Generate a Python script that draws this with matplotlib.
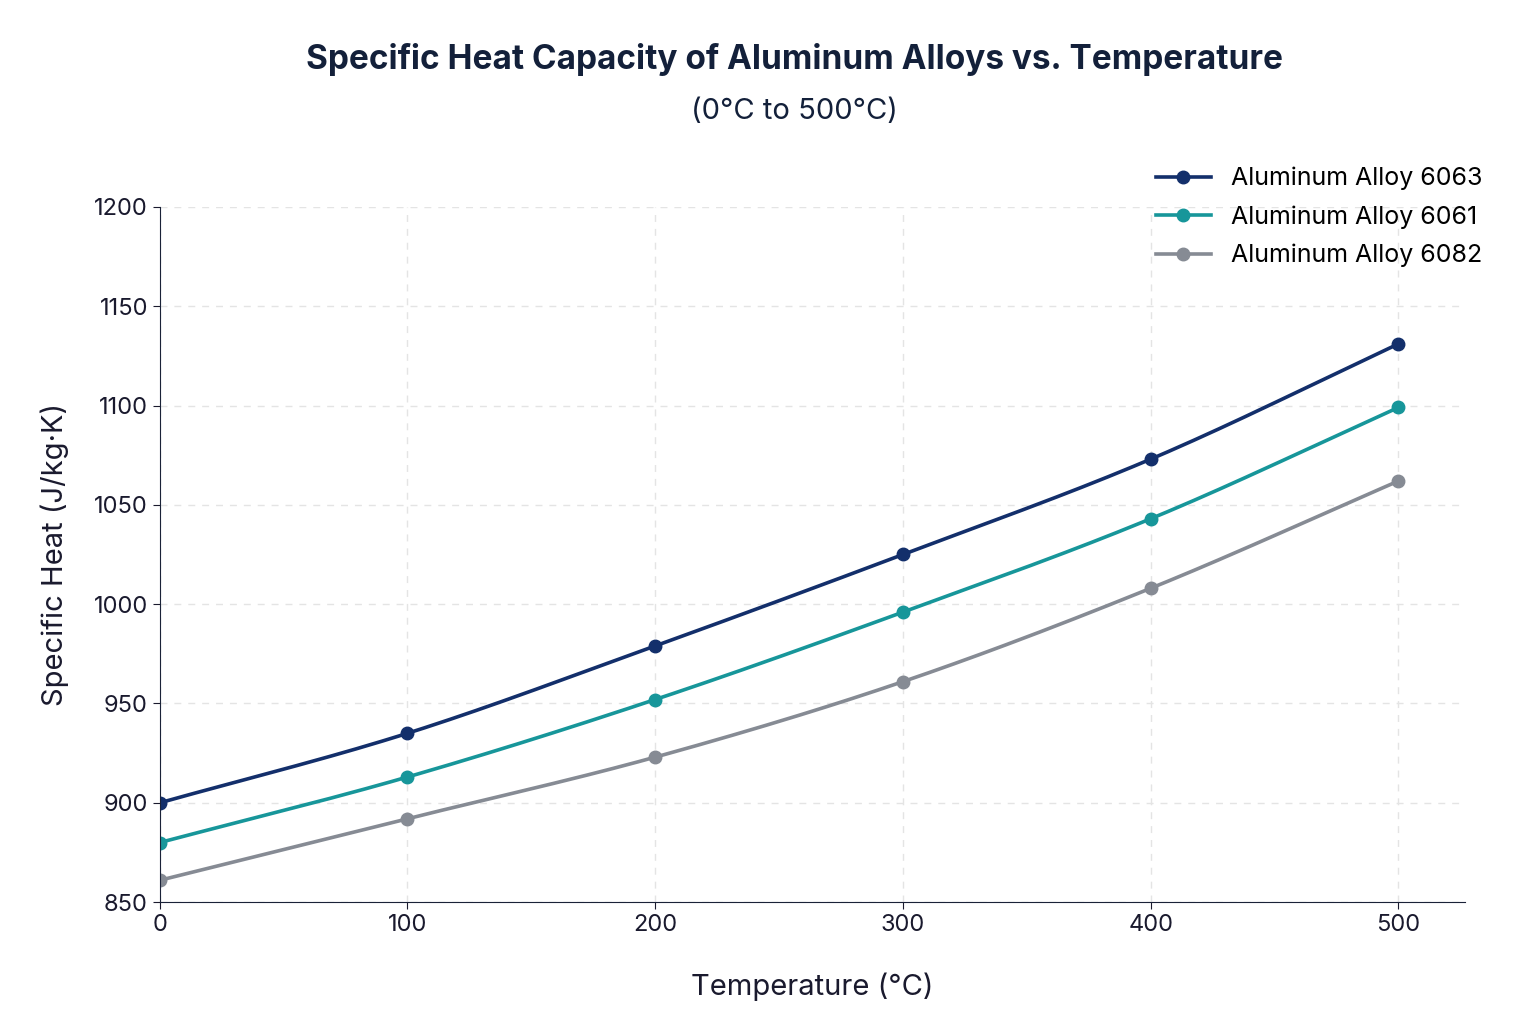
import numpy as np
import matplotlib.pyplot as plt

temps = [0, 100, 200, 300, 400, 500]
alloy_6063 = [900, 935, 979, 1025, 1073, 1131]
alloy_6061 = [880, 913, 952, 996, 1043, 1099]
alloy_6082 = [861, 892, 923, 961, 1008, 1062]

series = [
    ("Aluminum Alloy 6063", alloy_6063, "#132f6b"),
    ("Aluminum Alloy 6061", alloy_6061, "#17969a"),
    ("Aluminum Alloy 6082", alloy_6082, "#868b94"),
]


def smooth(x, y, n=30):
    # Catmull-Rom curve through the points, for drawing only
    x = np.asarray(x, float)
    y = np.asarray(y, float)
    px = np.concatenate([[2 * x[0] - x[1]], x, [2 * x[-1] - x[-2]]])
    py = np.concatenate([[2 * y[0] - y[1]], y, [2 * y[-1] - y[-2]]])
    xs, ys = [], []
    t = np.linspace(0, 1, n)
    for i in range(1, len(px) - 2):
        for p, out in ((px, xs), (py, ys)):
            p0, p1, p2, p3 = p[i - 1], p[i], p[i + 1], p[i + 2]
            out.extend(0.5 * (2 * p1 + (-p0 + p2) * t
                              + (2 * p0 - 5 * p1 + 4 * p2 - p3) * t ** 2
                              + (-p0 + 3 * p1 - 3 * p2 + p3) * t ** 3))
    return xs, ys


plt.rcParams['font.family'] = ['Inter', 'DejaVu Sans']

fig = plt.figure(figsize=(15.36, 10.24), dpi=100)
ax = fig.add_axes([0.104, 0.119, 0.850, 0.679])

for label, vals, color in series:
    sx, sy = smooth(temps, vals)
    ax.plot(sx, sy, color=color, lw=2.6)
    ax.plot(temps, vals, 'o', color=color, ms=9)
    ax.plot([], [], '-o', color=color, lw=2.6, ms=9, label=label)

ax.set_xlim(0, 527)
ax.set_ylim(850, 1200)
ax.set_xticks(temps)
ax.set_yticks(range(850, 1201, 50))
ax.tick_params(labelsize=17, colors="#1a1a2e", length=5)
ax.grid(True, ls=(0, (5, 5)), color="#e4e4e4", lw=1)
for s in ("top", "right"):
    ax.spines[s].set_visible(False)
for s in ("left", "bottom"):
    ax.spines[s].set_color("#1a2238")

ax.set_xlabel("Temperature (°C)", fontsize=21, color="#1a1a2e", labelpad=26)
ax.set_ylabel("Specific Heat (J/kg·K)", fontsize=21, color="#1a1a2e", labelpad=18)

fig.text(0.517, 0.942, "Specific Heat Capacity of Aluminum Alloys vs. Temperature",
         ha="center", va="center", fontsize=24, fontweight="bold", color="#13203a")
fig.text(0.517, 0.891, "(0°C to 500°C)", ha="center", va="center",
         fontsize=21, color="#13203a")

ax.legend(loc="upper right", bbox_to_anchor=(1.03, 1.09), frameon=False,
          fontsize=18, handlelength=2.2, labelspacing=0.6)

fig.savefig("out.png", dpi=100, facecolor="white")
